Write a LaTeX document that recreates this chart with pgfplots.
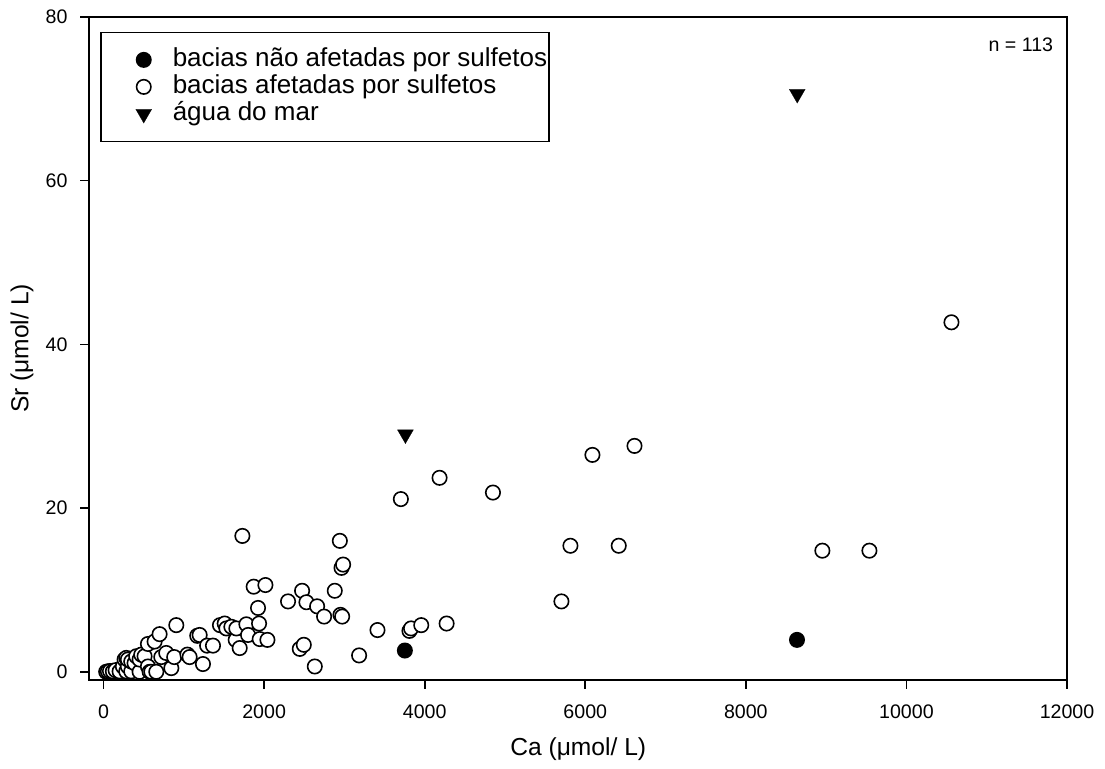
\documentclass[border=0pt]{standalone}
\usepackage{fontspec}
\setmainfont{Liberation Sans}
\usepackage{pgfplots}
\pgfplotsset{compat=1.18}
\begin{document}
\begin{tikzpicture}
\begin{axis}[
  scale only axis, width=488.75pt, height=331.5pt,
  xmin=-175, xmax=12000, ymin=-1, ymax=80,
  xtick={0,2000,4000,6000,8000,10000,12000},
  ytick={0,20,40,60,80},
  tick pos=left, tick align=outside, major tick length=4.5pt,
  axis line style={line width=1pt},
  every tick/.style={black, line width=0.8pt},
  scaled x ticks=false,
  /pgf/number format/assume math mode=true,
  /pgf/number format/set thousands separator={},
  tick label style={font=\fontsize{9.8}{11}\selectfont},
  xticklabel style={yshift=-4.5pt},
  yticklabel style={xshift=-3pt},
  xlabel={Ca (μmol/ L)}, ylabel={Sr (μmol/ L)},
  label style={font=\fontsize{12.3}{14}\selectfont},
  xlabel style={at={(axis description cs:0.5,-0.1041)}, anchor=center},
  ylabel style={at={(axis description cs:-0.06905,0.5)}, anchor=center},
  legend style={at={(0.0107,0.978)}, anchor=north west, draw=black, line width=0.8pt,
    font=\fontsize{13}{13.5}\selectfont, inner xsep=1pt, inner ysep=7pt,
    row sep=0pt, nodes={inner ysep=0.5pt, inner xsep=0pt, text height=9.5pt, text depth=3pt}},
  legend cell align=left,
  legend image code/.code={\path[draw=none,fill=none] (0pt,0pt) -- (35pt,0pt); \draw[#1] plot coordinates {(20.5pt,0pt)};},
  clip=false,
]
% filled circles: bacias nao afetadas
\addplot[only marks, mark=*, mark size=3.6pt, mark options={fill=black, draw=black, line width=0.8pt}]
  coordinates {(3753,2.6) (8637,3.9)};
\addlegendentry{bacias não afetadas por sulfetos}
% open circles: bacias afetadas
\addplot[only marks, mark=*, mark size=3.6pt, mark options={fill=white, draw=black, line width=0.8pt}]
  coordinates {
  (33,0) (54,0.05) (80,0.1) (116,0.05) (150,0.2) (200,0.05) (241,0.65) (262,1.5) (283,0.05)
  (283,1.7) (303,0.65) (303,1.5) (345,0.05) (345,1.26) (386,1.06) (407,1.9) (449,0)
  (449,1.5) (470,2.1) (511,1.9) (553,0.65) (553,3.4) (574,0) (595,0) (636,3.7) (657,0)
  (698,4.6) (719,1.8) (781,2.3) (844,0.45) (880,1.8) (906,5.7) (1045,2.1) (1072,1.8)
  (1167,4.4) (1197,4.5) (1238,0.95) (1290,3.2) (1363,3.2) (1450,5.7) (1509,5.9) (1530,5.3)
  (1592,5.5) (1646,3.9) (1654,5.3) (1696,2.9) (1729,16.6) (1779,5.8) (1800,4.5) (1870,10.4)
  (1924,7.8) (1937,5.9) (1945,4.0) (2016,10.6) (2041,3.9) (2298,8.6) (2444,2.8) (2494,3.3)
  (2473,9.9) (2527,8.5) (2631,0.65) (2660,8.0) (2747,6.75) (2880,9.9) (2943,16.0) (2951,6.96)
  (2972,6.75) (2964,12.7) (2984,13.1) (3183,2.0) (3412,5.1) (3703,21.1) (3810,5.0) (3830,5.3)
  (3957,5.7) (4185,23.7) (4273,5.9) (4850,21.9) (5703,8.6) (5815,15.4) (6089,26.5) (6417,15.4)
  (6613,27.6) (8953,14.8) (9539,14.8) (10561,42.7)
  };
\addlegendentry{bacias afetadas por sulfetos}
% triangles: agua do mar
\addplot[only marks, mark=triangle*, mark size=4.6pt, mark options={fill=black, draw=black, rotate=180, line width=0.1pt}]
  coordinates {(3760,29.0) (8640,70.6)};
\addlegendentry{água do mar}
\node[anchor=east, font=\fontsize{9.8}{11}\selectfont] at (rel axis cs:0.993,0.958) {n = 113};
\end{axis}
\pgfresetboundingbox
\path[use as bounding box] (current axis.south west) ++(-44.75pt,-44.5pt) rectangle ([xshift=19pt,yshift=8.5pt]current axis.north east);
\end{tikzpicture}
\end{document}
